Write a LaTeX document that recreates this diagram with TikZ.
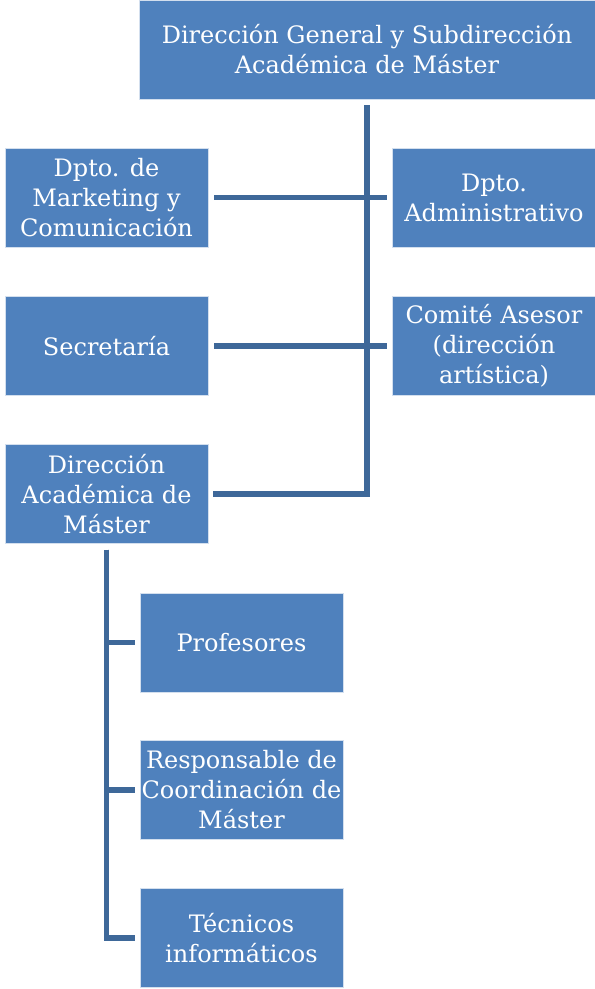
\documentclass[tikz,border=0pt]{standalone}
\usepackage{fontspec}
\setmainfont{DejaVu Serif}
\usepackage{xcolor}
\definecolor{boxblue}{HTML}{4F81BD}
\definecolor{linkblue}{HTML}{3E6899}

\begin{document}
\begin{tikzpicture}[
    x=1bp, y=-1bp,
    unit/.style={draw=white!75!boxblue, fill=boxblue, text=white, align=center,
      minimum width=203bp, minimum height=99bp, inner xsep=0bp, inner ysep=1bp,
      font=\fontsize{24bp}{30bp}\selectfont},
    link/.style={draw=linkblue, line width=5.5bp, shorten <=6bp, shorten >=5bp}
  ]
\useasboundingbox (0,0) rectangle (595,989);

% Top level
\node [unit, minimum width=456bp] (dir) at (367,49.5) {Dirección General y Subdirección\\Académica de Máster};

% Departments around the main line
\node [unit] (mkt) at (106.5,197.5) {Dpto. de\\Marketing y\\Comunicación};
\node [unit] (adm) at (494,197.5) {Dpto.\\Administrativo};
\node [unit] (sec) at (106.5,346) {Secretaría};
\node [unit] (com) at (494,346) {Comité Asesor\\(dirección\\artística)};
\node [unit] (dam) at (106.5,494) {Dirección\\Académica de\\Máster};

% Under the academic direction
\node [unit] (prof) at (241.5,642.5) {Profesores};
\node [unit] (resp) at (241.5,790) {Responsable de\\Coordinación de\\Máster};
\node [unit] (tec) at (241.5,938) {Técnicos\\informáticos};

% Connectors
\draw [link] (dir.south) |- (dam.east);
\draw [link] (mkt.east) -- (adm.west);
\draw [link] (sec.east) -- (com.west);
\draw [link] (dam.south) |- (prof.west);
\draw [link] (dam.south) |- (resp.west);
\draw [link] (dam.south) |- (tec.west);

\end{tikzpicture}
\end{document}
